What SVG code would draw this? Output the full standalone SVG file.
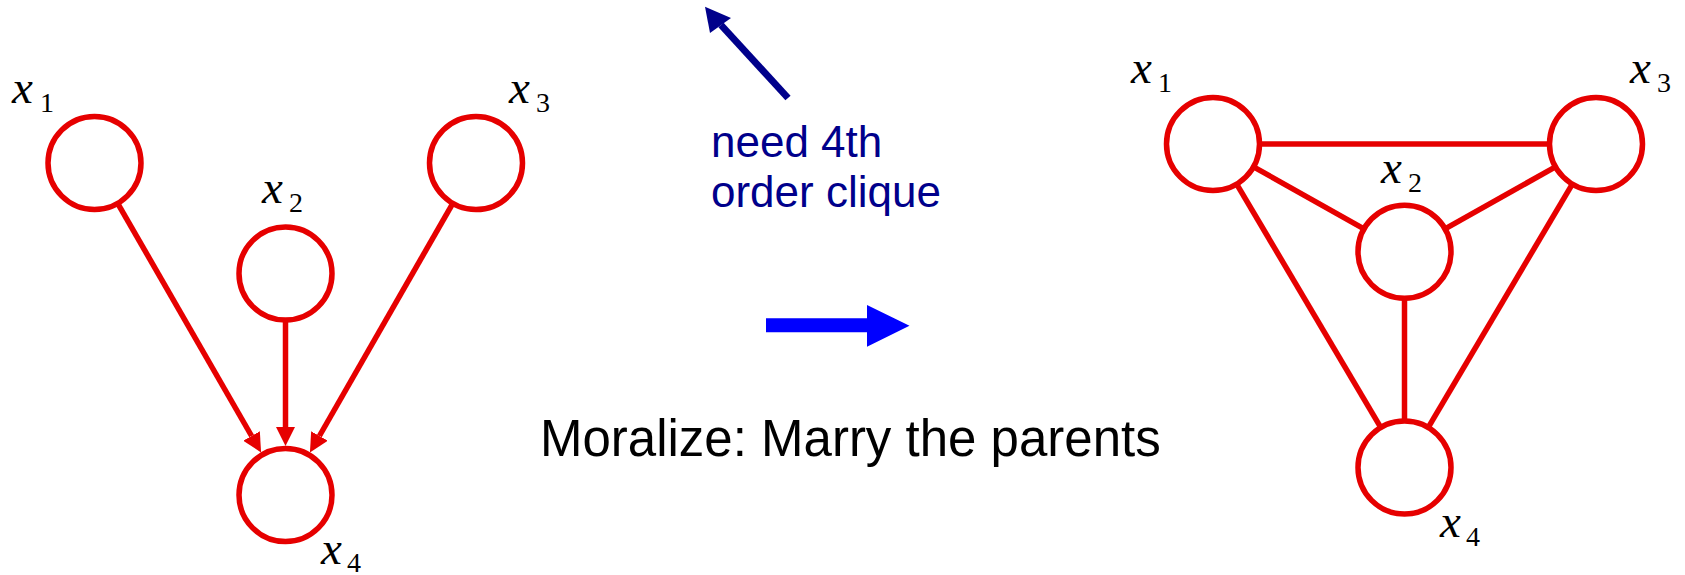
<svg xmlns="http://www.w3.org/2000/svg" width="1685" height="575" viewBox="0 0 1685 575">
  <style>
    .node { fill: #ffffff; stroke: #e60000; stroke-width: 5.5; }
    .edge { stroke: #e60000; stroke-width: 5.5; fill: none; }
    .v { font-family: "Liberation Serif", "DejaVu Serif", serif; font-style: italic; font-size: 47px; fill: #000; }
    .sub { font-family: "Liberation Serif", "DejaVu Serif", serif; font-size: 28px; fill: #000; }
    .note { font-family: "Liberation Sans", Arial, sans-serif; font-size: 44px; fill: #00008b; }
    .caption { font-family: "Liberation Sans", Arial, sans-serif; font-size: 51px; fill: #000; }
  </style>
  <defs>
    <marker id="ah" markerUnits="userSpaceOnUse" markerWidth="19" markerHeight="19" refX="0" refY="9.5" orient="auto" viewBox="0 0 19 19">
      <path d="M0,0 L19,9.5 L0,19 z" fill="#e60000"/>
    </marker>
  </defs>
  <rect x="0" y="0" width="1685" height="575" fill="#ffffff"/>

  <!-- connectors -->
  <g id="connectors">
    <!-- left directed graph -->
    <line class="edge" x1="117.7" y1="203.3" x2="251.6" y2="436.0" marker-end="url(#ah)"/>
    <line class="edge" x1="285.5" y1="320" x2="285.5" y2="427" marker-end="url(#ah)"/>
    <line class="edge" x1="452.8" y1="203.3" x2="319.4" y2="436.0" marker-end="url(#ah)"/>
    <!-- right moral graph -->
    <line class="edge" x1="1259" y1="144" x2="1550" y2="144"/>
    <line class="edge" x1="1253.1" y1="166.6" x2="1364.4" y2="229.1"/>
    <line class="edge" x1="1555.9" y1="166.6" x2="1444.6" y2="229.1"/>
    <line class="edge" x1="1236.4" y1="183.6" x2="1381" y2="427.9"/>
    <line class="edge" x1="1572.6" y1="183.6" x2="1428" y2="427.9"/>
    <line class="edge" x1="1404.5" y1="297.7" x2="1404.5" y2="421.5"/>
  </g>

  <!-- left graph nodes -->
  <g id="L_x1">
    <circle class="node" cx="94.5" cy="163" r="46.5"/>
    <text x="12" y="103"><tspan class="v">x</tspan><tspan class="sub" x="40" y="112">1</tspan></text>
  </g>
  <g id="L_x2">
    <circle class="node" cx="285.5" cy="273.5" r="46.5"/>
    <text x="262" y="203"><tspan class="v">x</tspan><tspan class="sub" x="289" y="212">2</tspan></text>
  </g>
  <g id="L_x3">
    <circle class="node" cx="476" cy="163" r="46.5"/>
    <text x="509" y="103"><tspan class="v">x</tspan><tspan class="sub" x="536" y="112">3</tspan></text>
  </g>
  <g id="L_x4">
    <circle class="node" cx="285.5" cy="495" r="46.5"/>
    <text x="321" y="564"><tspan class="v">x</tspan><tspan class="sub" x="347" y="572">4</tspan></text>
  </g>

  <!-- right graph nodes -->
  <g id="R_x1">
    <circle class="node" cx="1213" cy="144" r="46.5"/>
    <text x="1131" y="83"><tspan class="v">x</tspan><tspan class="sub" x="1158" y="92">1</tspan></text>
  </g>
  <g id="R_x2">
    <circle class="node" cx="1404.5" cy="251.7" r="46.5"/>
    <text x="1381" y="183"><tspan class="v">x</tspan><tspan class="sub" x="1408" y="192">2</tspan></text>
  </g>
  <g id="R_x3">
    <circle class="node" cx="1596" cy="144" r="46.5"/>
    <text x="1630" y="83"><tspan class="v">x</tspan><tspan class="sub" x="1657" y="92">3</tspan></text>
  </g>
  <g id="R_x4">
    <circle class="node" cx="1404.5" cy="467.5" r="46.5"/>
    <text x="1440" y="537"><tspan class="v">x</tspan><tspan class="sub" x="1466" y="546">4</tspan></text>
  </g>

  <!-- annotation: navy arrow and note -->
  <g id="note">
    <line x1="788" y1="98" x2="721" y2="25" stroke="#00008b" stroke-width="7"/>
    <polygon points="705,6.7 731,18 710,33" fill="#00008b"/>
    <text class="note" x="711" y="157">need 4th</text>
    <text class="note" x="711" y="207">order clique</text>
  </g>

  <!-- transform arrow -->
  <g id="moralize_arrow">
    <polygon points="766,318.3 867,318.3 867,305 909.5,325.7 867,346.7 867,332.3 766,332.3" fill="#0000ff"/>
  </g>

  <g id="caption">
    <text class="caption" x="540" y="456">Moralize: Marry the parents</text>
  </g>
</svg>
